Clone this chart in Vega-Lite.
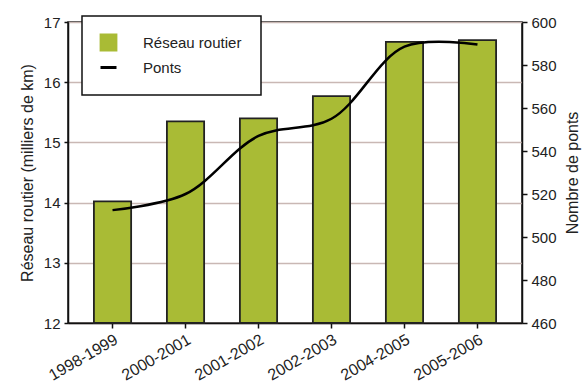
{
  "$schema": "https://vega.github.io/schema/vega-lite/v6.json",
  "width": 454,
  "height": 301,
  "autosize": {"type": "none"},
  "padding": {"left": 68, "top": 22, "right": 60, "bottom": 65},
  "background": "white",
  "data": {
    "values": [
      {"periode": "1998-1999", "reseau": 14.02, "ponts": 512.5},
      {"periode": "2000-2001", "reseau": 15.35, "ponts": 520},
      {"periode": "2001-2002", "reseau": 15.4, "ponts": 547},
      {"periode": "2002-2003", "reseau": 15.77, "ponts": 555},
      {"periode": "2004-2005", "reseau": 16.67, "ponts": 588.5},
      {"periode": "2005-2006", "reseau": 16.7, "ponts": 589.5}
    ]
  },
  "config": {
    "font": "Liberation Sans",
    "view": {"stroke": "#111111", "strokeWidth": 1.5},
    "axis": {
      "domainColor": "#111111",
      "domainWidth": 1.5,
      "tickColor": "#111111",
      "tickWidth": 1.5,
      "labelColor": "#222222",
      "titleColor": "#222222",
      "labelFont": "Liberation Sans",
      "titleFont": "Liberation Sans",
      "titleFontWeight": "normal"
    },
    "legend": {
      "title": null,
      "orient": "none",
      "legendX": 14,
      "legendY": -6,
      "fillColor": "white",
      "strokeColor": "#111111",
      "padding": 19,
      "symbolSize": 256,
      "labelFontSize": 15,
      "labelColor": "#222222",
      "labelOffset": 27,
      "rowPadding": 5
    }
  },
  "encoding": {
    "x": {
      "field": "periode",
      "type": "nominal",
      "sort": null,
      "scale": {"paddingInner": 0.49, "paddingOuter": 0.355},
      "axis": {
        "title": null,
        "labelAngle": -30,
        "labelAlign": "right",
        "labelBaseline": "top",
        "labelFontSize": 16,
        "labelPadding": 3,
        "tickSize": 5,
        "grid": false
      }
    }
  },
  "layer": [
    {
      "mark": {"type": "bar", "stroke": "#222222", "strokeWidth": 1.8},
      "encoding": {
        "y": {
          "field": "reseau",
          "type": "quantitative",
          "scale": {"domain": [12, 17], "zero": false, "nice": false},
          "axis": {
            "title": "Réseau routier (milliers de km)",
            "titleFontSize": 16,
            "titlePadding": 8,
            "values": [12, 13, 14, 15, 16, 17],
            "labelFontSize": 15,
            "tickSize": 4,
            "labelPadding": 4,
            "grid": true,
            "gridColor": "#c9b8b4",
            "gridWidth": 1.5
          }
        },
        "y2": {"datum": 12},
        "color": {
          "datum": "Réseau routier",
          "type": "nominal",
          "scale": {"domain": ["Réseau routier", "Ponts"], "range": ["#a9bb35", "#000000"]},
          "legend": {
            "title": null,
            "symbolStrokeColor": "#111111",
            "symbolStrokeWidth": 1.8,
            "encode": {
              "legend": {"update": {"strokeWidth": {"value": 1.5}}},
              "symbols": {
                "update": {
                  "shape": {"signal": "datum.value === 'Ponts' ? 'stroke' : 'square'"},
                  "fill": {"signal": "datum.value === 'Ponts' ? 'transparent' : '#a9bb35'"},
                  "stroke": {"signal": "'#111111'"},
                  "strokeOpacity": {"value": 1},
                  "strokeWidth": {"signal": "datum.value === 'Ponts' ? 3 : 1.8"},
                  "opacity": {"value": 1}
                }
              }
            }
          }
        }
      }
    },
    {
      "mark": {"type": "line", "interpolate": "catmull-rom", "strokeWidth": 2.5},
      "encoding": {
        "y": {
          "field": "ponts",
          "type": "quantitative",
          "scale": {"domain": [460, 600], "zero": false, "nice": false},
          "axis": {
            "orient": "right",
            "title": "Nombre de ponts",
            "titleFontSize": 16,
            "titleAngle": 270,
            "titleBaseline": "top",
            "titlePadding": 8,
            "values": [460, 480, 500, 520, 540, 560, 580, 600],
            "labelFontSize": 15,
            "tickSize": 5,
            "labelPadding": 4,
            "grid": false
          }
        },
        "color": {
          "datum": "Ponts",
          "type": "nominal",
          "legend": {
            "title": null,
            "symbolStrokeColor": "#111111",
            "symbolStrokeWidth": 1.8,
            "encode": {
              "legend": {"update": {"strokeWidth": {"value": 1.5}}},
              "symbols": {
                "update": {
                  "shape": {"signal": "datum.value === 'Ponts' ? 'stroke' : 'square'"},
                  "fill": {"signal": "datum.value === 'Ponts' ? 'transparent' : '#a9bb35'"},
                  "stroke": {"signal": "'#111111'"},
                  "strokeOpacity": {"value": 1},
                  "strokeWidth": {"signal": "datum.value === 'Ponts' ? 3 : 1.8"},
                  "opacity": {"value": 1}
                }
              }
            }
          }
        }
      }
    }
  ],
  "resolve": {"scale": {"y": "independent"}}
}
